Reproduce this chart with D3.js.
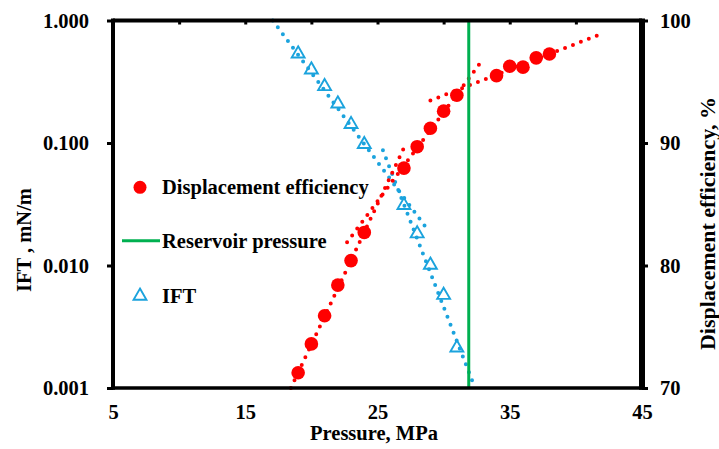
<!DOCTYPE html>
<html>
<head>
<meta charset="utf-8">
<script src="https://cdn.jsdelivr.net/npm/d3@7"></script>
<style>
  html, body { margin: 0; padding: 0; background: #fff; }
  svg { display: block; }
  text { font-family: "Liberation Serif", "Times New Roman", serif; font-weight: bold; fill: #000; }
</style>
</head>
<body>
<svg id="chart" width="719" height="449"></svg>
<script>
// ---- data ----
const effPressure = [19, 20, 21, 22, 23, 24, 27, 28, 29, 30, 31, 34, 35, 36, 37, 38];
const effValues   = [71.25, 73.6, 75.9, 78.4, 80.4, 82.7, 87.95, 89.7, 91.2, 92.6, 93.9, 95.5, 96.27, 96.19, 96.95, 97.27];

const iftPressure = [19, 20, 21, 22, 23, 24, 27, 28, 29, 30, 31];
const iftValues   = [0.535, 0.396, 0.29, 0.209, 0.142, 0.0975, 0.031, 0.0182, 0.0101, 0.00573, 0.00213];

const reservoirPressure = 31.9;

// trend lines (end points)
const effTrend1P = [18.45, 27.0],  effTrend1V = [70, 89.6];
const effTrend2P = [22.7, 32.75],  effTrend2V = [81.9, 96.5];
const effTrend3P = [29.0, 41.6],   effTrend3V = [93.47, 98.77];
const iftTrend1P = [17.08, 28.66], iftTrend1V = [1.0, 0.0205];
const iftTrend2P = [25.41, 32.3],  iftTrend2V = [0.0871, 0.00105];

const xTicks = [5, 15, 25, 35, 45];
const xMinorTicks = [10, 15, 20, 25, 30, 35, 40];
const iftTicks = [1, 0.1, 0.01, 0.001];
const effTicks = [70, 80, 90, 100];

const legendLabels = ["Displacement efficiency", "Reservoir pressure", "IFT"];
const xTitle = "Pressure, MPa";
const yTitle = "IFT , mN/m";
const y2Title = "Displacement efficiency, %";

// ---- layout ----
const L = 113, R = 642, T = 20.5, B = 388;
const RED = "#ff0000", BLUE = "#1ba3dd", GREEN = "#00b050";

const svg = d3.select("#chart");
const x = d3.scaleLinear().domain([5, 45]).range([L, R]);
const yL = d3.scaleLog().domain([0.001, 1]).range([B, T]);
const yR = d3.scaleLinear().domain([70, 100]).range([B, T]);

// trend lines
const lineEff = d3.line().x(d => x(d[0])).y(d => yR(d[1]));
const lineIft = d3.line().x(d => x(d[0])).y(d => yL(d[1]));
const zip = (a, b) => a.map((v, i) => [v, b[i]]);

function dotted(path, color) {
  svg.append("path").attr("d", path).attr("fill", "none")
    .attr("stroke", color).attr("stroke-width", 4)
    .attr("stroke-linecap", "round").attr("stroke-dasharray", "0 8.5");
}
dotted(lineIft(zip(iftTrend1P, iftTrend1V)), BLUE);
dotted(lineIft(zip(iftTrend2P, iftTrend2V)), BLUE);
dotted(lineEff(zip(effTrend1P, effTrend1V)), RED);
dotted(lineEff(zip(effTrend2P, effTrend2V)), RED);
dotted(lineEff(zip(effTrend3P, effTrend3V)), RED);

// reservoir pressure
svg.append("line")
  .attr("x1", x(reservoirPressure)).attr("x2", x(reservoirPressure))
  .attr("y1", T).attr("y2", B)
  .attr("stroke", GREEN).attr("stroke-width", 3);

// IFT markers
const tri = d3.symbol().type(d3.symbolTriangle).size(72);
svg.append("g").selectAll("path").data(zip(iftPressure, iftValues)).join("path")
  .attr("d", tri)
  .attr("transform", d => `translate(${x(d[0])},${yL(d[1])})`)
  .attr("fill", "none").attr("stroke", BLUE).attr("stroke-width", 1.9);

// efficiency markers
svg.append("g").selectAll("circle").data(zip(effPressure, effValues)).join("circle")
  .attr("cx", d => x(d[0])).attr("cy", d => yR(d[1])).attr("r", 6.8)
  .attr("fill", RED);

// axes
const fs = 20.5;
const gL = svg.append("g").attr("transform", `translate(${L},0)`)
  .call(d3.axisLeft(yL).tickValues(iftTicks).tickFormat(d3.format(".3f")).tickSize(6).tickPadding(18));
const gR = svg.append("g").attr("transform", `translate(${R},0)`)
  .call(d3.axisRight(yR).tickValues(effTicks).tickFormat(d3.format("d")).tickSize(6).tickPadding(12));
const gB = svg.append("g").attr("transform", `translate(0,${B})`)
  .call(d3.axisBottom(x).tickValues(xTicks).tickFormat(d3.format("d")).tickSize(0).tickPadding(0));
const gT = svg.append("g").attr("transform", `translate(0,${T})`)
  .call(d3.axisBottom(x).tickValues(xMinorTicks).tickFormat("").tickSize(4));

[gL, gR, gB, gT].forEach(g => {
  g.select(".domain").remove();
  g.selectAll("line").attr("stroke", "#000").attr("stroke-width", 3);
  g.selectAll("text").attr("font-size", fs).attr("font-family", null).style("fill", "#000");
});
gL.selectAll("text").attr("dy", "0.33em");
gR.selectAll("text").attr("dy", "0.33em");
gB.selectAll("text").attr("y", 30.5).attr("dy", 0);
gR.selectAll("line").attr("x1", 0);

// frame
svg.append("line").attr("x1", L).attr("x2", R).attr("y1", T).attr("y2", T).attr("stroke", "#000").attr("stroke-width", 4);
svg.append("line").attr("x1", L).attr("x2", R).attr("y1", B).attr("y2", B).attr("stroke", "#000").attr("stroke-width", 3.5);
svg.append("line").attr("x1", L).attr("x2", L).attr("y1", T - 2).attr("y2", B + 1.75).attr("stroke", "#000").attr("stroke-width", 4);
svg.append("line").attr("x1", R).attr("x2", R).attr("y1", T - 2).attr("y2", B + 1.75).attr("stroke", "#000").attr("stroke-width", 6);

// titles
svg.append("text").attr("x", 374).attr("y", 440).attr("text-anchor", "middle")
  .attr("font-size", fs).text(xTitle);
svg.append("text").attr("transform", "translate(31,240) rotate(-90)").attr("text-anchor", "middle")
  .attr("font-size", fs).text(yTitle);
svg.append("text").attr("transform", "translate(715,223.5) rotate(-90)").attr("text-anchor", "middle")
  .attr("font-size", 20).attr("textLength", 253).attr("lengthAdjust", "spacingAndGlyphs").text(y2Title);

// legend
const lg = svg.append("g");
lg.append("circle").attr("cx", 140).attr("cy", 187.3).attr("r", 6.5).attr("fill", RED);
lg.append("text").attr("x", 162).attr("y", 194).attr("font-size", fs).text(legendLabels[0]);
lg.append("line").attr("x1", 122).attr("x2", 160).attr("y1", 240.7).attr("y2", 240.7)
  .attr("stroke", GREEN).attr("stroke-width", 3);
lg.append("text").attr("x", 162).attr("y", 247.5).attr("font-size", fs).text(legendLabels[1]);
lg.append("path").attr("d", tri).attr("transform", "translate(140,296)")
  .attr("fill", "none").attr("stroke", BLUE).attr("stroke-width", 1.9);
lg.append("text").attr("x", 162).attr("y", 303).attr("font-size", fs).text(legendLabels[2]);
</script>
</body>
</html>
